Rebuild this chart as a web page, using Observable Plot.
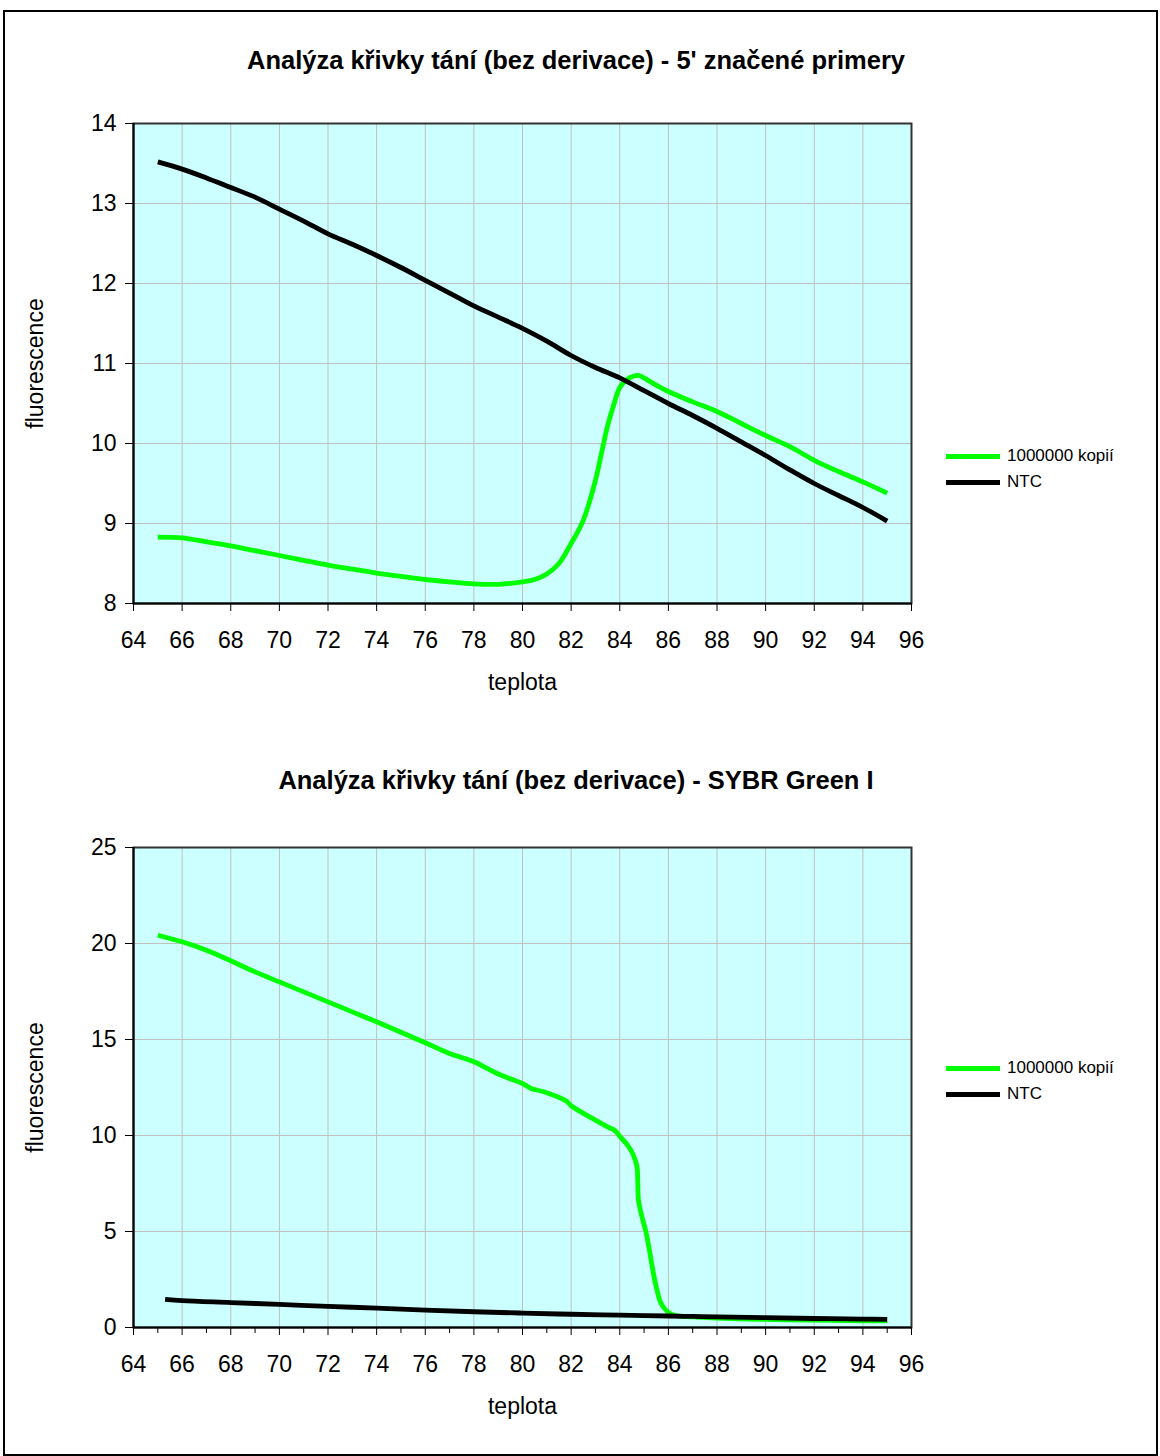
<!DOCTYPE html>
<html><head><meta charset="utf-8">
<script src="https://cdn.jsdelivr.net/npm/d3@7"></script>
<script src="https://cdn.jsdelivr.net/npm/@observablehq/plot@0.6"></script>
<style>
body{margin:0;background:#fff;}
#page{position:relative;width:1160px;height:1456px;font-family:"Liberation Sans",Arial,sans-serif;color:#000;overflow:hidden;}
#border{position:absolute;left:3px;top:10px;width:1155px;height:1446px;border:2px solid #000;box-sizing:border-box;}
.title{position:absolute;left:0;width:1152px;text-align:center;font-weight:bold;font-size:25.5px;line-height:26px;white-space:nowrap;}
.plot{position:absolute;left:0;}
.legend{position:absolute;left:946px;font-size:17px;}
.legend .item{position:relative;height:26px;line-height:26px;white-space:nowrap;}
.legend .sw{position:absolute;left:0;top:11px;width:54px;height:5px;}
.legend .lab{position:absolute;left:61px;top:0;}
</style></head><body>
<div id="page">
  <div id="border"></div>
  <div class="title" style="top:47px">Analýza křivky tání (bez derivace) - 5' značené primery</div>
  <div id="plot1" class="plot" style="top:100px"></div>
  <div class="legend" style="top:443px">
    <div class="item"><div class="sw" style="background:#00ff00"></div><div class="lab">1000000 kopií</div></div>
    <div class="item"><div class="sw" style="background:#000"></div><div class="lab">NTC</div></div>
  </div>
  <div class="title" style="top:767px">Analýza křivky tání (bez derivace) - SYBR Green I</div>
  <div id="plot2" class="plot" style="top:824px"></div>
  <div class="legend" style="top:1055px">
    <div class="item"><div class="sw" style="background:#00ff00"></div><div class="lab">1000000 kopií</div></div>
    <div class="item"><div class="sw" style="background:#000"></div><div class="lab">NTC</div></div>
  </div>
</div>
<script>
// ---- Data ----
const seriesNames = ["1000000 kopií", "NTC"];
const seriesColors = ["#00ff00", "#000000"];
const xTicks = [64,66,68,70,72,74,76,78,80,82,84,86,88,90,92,94,96];
const xMinorTicks = [65,67,69,71,73,75,77,79,81,83,85,87,89,91,93,95];
const yTicksTop = [8,9,10,11,12,13,14];
const yTicksBottom = [0,5,10,15,20,25];

// Chart 1: 5' labelled primers
const topGreenT = [65,66,67,68,69,70,71,72,73,74,75,76,77,78,79,80,80.5,81,81.5,82,82.5,83,83.25,83.5,83.75,84,84.3,84.55,84.8,85.05,85.5,86,87,88,89,90,91,92,93,94,95];
const topGreenF = [8.83,8.82,8.77,8.72,8.66,8.60,8.54,8.48,8.43,8.38,8.34,8.30,8.27,8.245,8.24,8.27,8.30,8.37,8.50,8.75,9.04,9.54,9.88,10.22,10.48,10.70,10.80,10.84,10.85,10.81,10.73,10.65,10.52,10.40,10.25,10.10,9.96,9.79,9.65,9.52,9.38];
const topNtcT = [65,66,67,68,69,70,71,72,73,74,75,76,77,78,79,80,81,82,83,84,85,86,87,88,89,90,91,92,93,94,95];
const topNtcF = [13.52,13.43,13.32,13.20,13.08,12.93,12.78,12.62,12.49,12.35,12.20,12.04,11.88,11.72,11.58,11.44,11.28,11.10,10.95,10.82,10.66,10.50,10.35,10.19,10.02,9.85,9.67,9.50,9.35,9.20,9.03];

// Chart 2: SYBR Green I
const botGreenT = [65,66,67,68,69,70,71,72,73,74,75,76,77,78,79,80,80.35,80.9,81.8,82,83,83.5,83.8,84.02,84.32,84.53,84.71,84.74,84.77,84.88,85.09,85.22,85.36,85.5,85.7,85.97,86.25,87,88,90,92,94,95];
const botGreenF = [20.43,20.09,19.65,19.10,18.52,18.00,17.48,16.96,16.44,15.92,15.38,14.83,14.27,13.84,13.20,12.71,12.45,12.27,11.80,11.55,10.80,10.45,10.26,9.93,9.50,9.06,8.37,7.67,6.63,5.94,4.90,4.03,2.99,2.12,1.25,0.82,0.64,0.55,0.49,0.42,0.38,0.35,0.34];
const botNtcT = [65.3,66,68,70,72,74,76,78,80,82,84,86,88,90,92,94,95];
const botNtcF = [1.47,1.40,1.30,1.20,1.10,1.01,0.91,0.82,0.75,0.69,0.64,0.60,0.55,0.51,0.47,0.44,0.42];

const toRows = (ts, fs, name) => ts.map((t, i) => ({t, f: fs[i], s: name}));

function chart(green, ntc, yDomain, yTicks, minor) {
  const rows = [...green, ...ntc];
  const marks = [
    Plot.frame({fill: "#ccffff"}),
    Plot.gridX(xTicks.slice(1, -1), {stroke: "#c0c0c0", strokeOpacity: 1, strokeWidth: 1}),
    Plot.gridY(yTicks.slice(1, -1), {stroke: "#c0c0c0", strokeOpacity: 1, strokeWidth: 1}),
    Plot.line(rows, {x: "t", y: "f", z: "s", stroke: "s", strokeWidth: 4.8, curve: "catmull-rom", strokeLinejoin: "round", strokeLinecap: "butt"}),
    Plot.frame({stroke: "#333", strokeWidth: 2}),
    Plot.ruleX([xTicks[0]], {stroke: "#000", strokeWidth: 2}),
    Plot.ruleY([yDomain[0]], {stroke: "#000", strokeWidth: 2}),
    Plot.axisX(xTicks, {tickSize: 8, tickPadding: 20, fontSize: 23, label: null, stroke: "#000", tickFormat: d => String(d)}),
    Plot.axisY(yTicks, {tickSize: 8, tickPadding: 9, fontSize: 23, label: null, stroke: "#000", tickFormat: d => String(d)}),
    Plot.text(["teplota"], {frameAnchor: "bottom", dy: 86, fontSize: 23}),
    Plot.text(["fluorescence"], {frameAnchor: "left", dx: -98, rotate: -90, fontSize: 23, textAnchor: "middle"})
  ];
  if (minor) marks.push(Plot.axisX(xMinorTicks, {tickSize: 6, tickFormat: () => "", label: null, stroke: "#000"}));
  return Plot.plot({
    width: 1160, height: 620,
    marginLeft: 133, marginRight: 249, marginTop: 23, marginBottom: 117,
    style: {fontFamily: "'Liberation Sans', Arial, sans-serif", fontSize: "23px", color: "#000", background: "transparent", overflow: "visible"},
    x: {domain: [64, 96]},
    y: {domain: yDomain},
    color: {domain: seriesNames, range: seriesColors},
    marks
  });
}

document.getElementById("plot1").append(
  chart(toRows(topGreenT, topGreenF, seriesNames[0]), toRows(topNtcT, topNtcF, seriesNames[1]), [8, 14], yTicksTop, false));
document.getElementById("plot2").append(
  chart(toRows(botGreenT, botGreenF, seriesNames[0]), toRows(botNtcT, botNtcF, seriesNames[1]), [0, 25], yTicksBottom, true));
</script>
</body></html>
